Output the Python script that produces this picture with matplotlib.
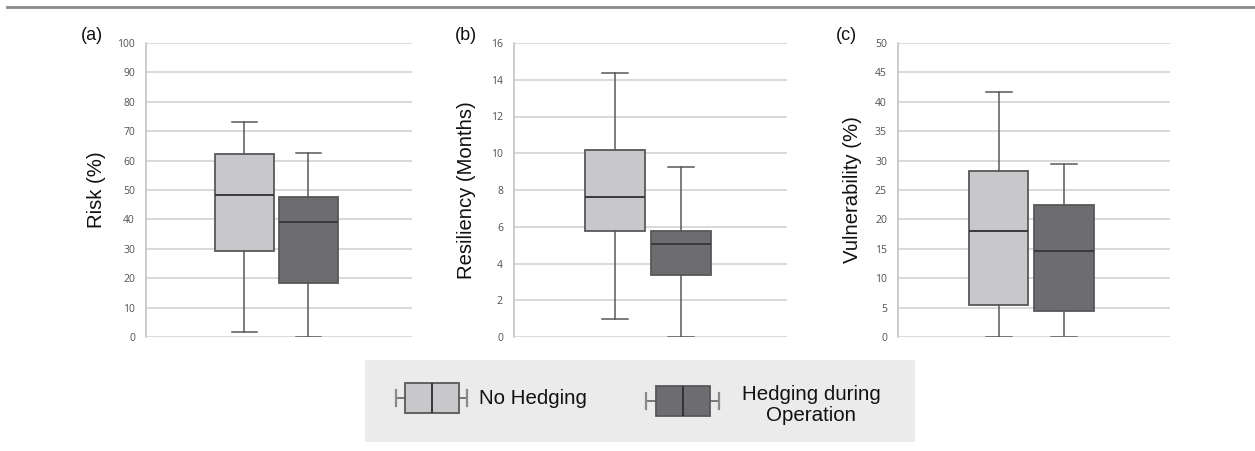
import matplotlib
matplotlib.use("Agg")
import matplotlib.pyplot as plt
from matplotlib.lines import Line2D

# ---- data ----
series = ["No Hedging", "Hedging during\nOperation"]
panel_labels = ["(a)", "(b)", "(c)"]
ylabels = ["Risk (%)", "Resiliency (Months)", "Vulnerability (%)"]
ylims = [100, 16, 50]
ysteps = [10, 2, 5]

# whisker low, Q1, median, Q3, whisker high
risk_no = [1.6, 29.3, 48.4, 62.4, 73.0]
risk_hedge = [0.0, 18.2, 39.0, 47.5, 62.7]
res_no = [1.0, 5.75, 7.6, 10.2, 14.35]
res_hedge = [0.0, 3.35, 5.05, 5.75, 9.25]
vul_no = [0.0, 5.5, 18.0, 28.2, 41.6]
vul_hedge = [0.0, 4.5, 14.6, 22.5, 29.4]

panels = [(risk_no, risk_hedge), (res_no, res_hedge), (vul_no, vul_hedge)]

light = "#c8c8ca"
dark = "#6d6c6f"
edge = "#58585a"
grid_c = "#d3d3d3"

W, H = 1255, 451
fig = plt.figure(figsize=(W / 100, H / 100), dpi=100)

# axes rectangles in pixels: left, right ; top, bottom
axes_px = [(146, 412), (514, 787), (898, 1170)]
top_px, bot_px = 43, 337
label_x_px = [81, 455, 836]
ylabel_x_px = [97, 467, 852]


def stats(v, label):
    lo, q1, med, q3, hi = v
    return dict(whislo=lo, q1=q1, med=med, q3=q3, whishi=hi, fliers=[], label=label)


for i, ((l, r), (a_no, a_h)) in enumerate(zip(axes_px, panels)):
    ax = fig.add_axes([l / W, 1 - bot_px / H, (r - l) / W, (bot_px - top_px) / H])
    bp = ax.bxp([stats(a_no, series[0]), stats(a_h, series[1])],
                positions=[1, 2], widths=0.91, capwidths=0.40,
                showfliers=False, patch_artist=True,
                boxprops=dict(edgecolor=edge, linewidth=1.3),
                medianprops=dict(color="#3a3a3c", linewidth=1.4),
                whiskerprops=dict(color=edge, linewidth=1.1),
                capprops=dict(color=edge, linewidth=1.1),
                zorder=3)
    for patch, c in zip(bp["boxes"], [light, dark]):
        patch.set_facecolor(c)
    ax.set_xlim(-0.54, 3.62)
    ax.set_ylim(0, ylims[i])
    ax.set_yticks(range(0, ylims[i] + 1, ysteps[i]))
    ax.set_xticks([])
    ax.yaxis.grid(True, color=grid_c, linewidth=1.2, zorder=0)
    ax.set_axisbelow(True)
    for s in ["top", "right", "bottom"]:
        ax.spines[s].set_visible(False)
    ax.spines["left"].set_color("#c4c4c4")
    ax.spines["left"].set_linewidth(1.2)
    ax.tick_params(axis="y", length=0, pad=8, labelsize=7.5, labelcolor="#505050")
    for t in ax.get_yticklabels():
        t.set_fontfamily("Open Sans")
    fig.text(ylabel_x_px[i] / W, 1 - 190 / H, ylabels[i], rotation=90,
             ha="center", va="center", fontsize=14.6, family="Liberation Sans",
             color="#111111")
    fig.text(label_x_px[i] / W, 1 - 35 / H, panel_labels[i], ha="left",
             va="center", fontsize=13, family="Liberation Sans", color="#111111")

# top rule
fig.add_artist(Line2D([7 / W, 1.0], [1 - 7 / H, 1 - 7 / H], color="#8a8a8a",
                      linewidth=2, transform=fig.transFigure))

# legend panel
lx0, lx1, ly0, ly1 = 365, 915, 360, 442
lax = fig.add_axes([lx0 / W, 1 - ly1 / H, (lx1 - lx0) / W, (ly1 - ly0) / H])
lax.set_facecolor("#ebebeb")
for s in lax.spines.values():
    s.set_visible(False)

glyph_stats = [dict(whislo=396, q1=405, med=432, q3=459, whishi=467, fliers=[]),
               dict(whislo=646, q1=656, med=683, q3=710, whishi=719, fliers=[])]
for gs, c, yc in zip(glyph_stats, [light, dark], [398, 401]):
    b = lax.bxp([gs], positions=[yc], widths=30, capwidths=16, vert=False,
                showfliers=False, patch_artist=True,
                boxprops=dict(edgecolor=edge, linewidth=1.3),
                medianprops=dict(color="#2e2e30", linewidth=1.3),
                whiskerprops=dict(color=edge, linewidth=1.1),
                capprops=dict(color="#8a8a8a", linewidth=1.6))
    b["boxes"][0].set_facecolor(c)
lax.set_xlim(lx0, lx1)
lax.set_ylim(ly1, ly0)
lax.set_yticks([])
lax.set_xticks([])
lax.text(479, 399, series[0], ha="left", va="center", fontsize=14.8,
         family="Liberation Sans", color="#111111")
lax.text(811, 405, series[1], ha="center", va="center", fontsize=14.8,
         family="Liberation Sans", color="#111111", linespacing=1.1)

fig.savefig("out.png", dpi=100, facecolor="white")
